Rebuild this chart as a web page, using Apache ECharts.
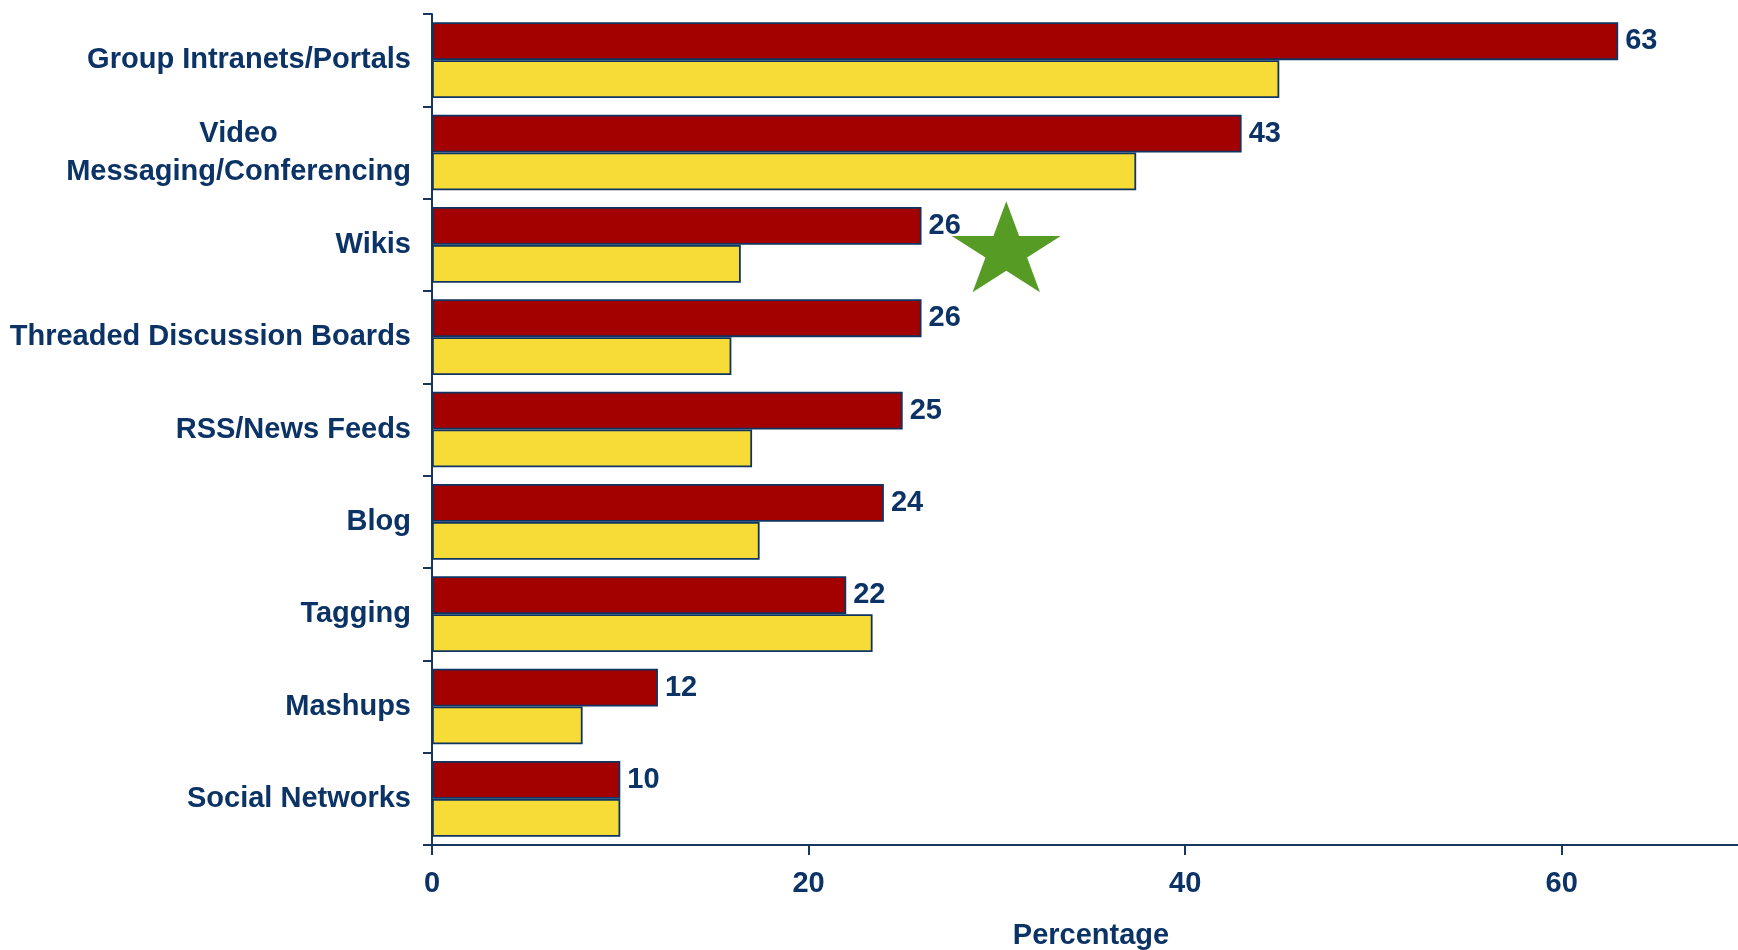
<!DOCTYPE html>
<html>
<head>
<meta charset="utf-8">
<title>Collaboration technologies</title>
<script src="https://cdn.jsdelivr.net/npm/echarts@6/dist/echarts.min.js"></script>
<style>
  html, body { margin: 0; padding: 0; background: #ffffff; }
  #chart { width: 1738px; height: 950px; }
</style>
</head>
<body>
<div id="chart"></div>
<script>
// Technologies, top to bottom
const categories = [
  'Group Intranets/Portals',
  'Video\nMessaging/Conferencing',
  'Wikis',
  'Threaded Discussion Boards',
  'RSS/News Feeds',
  'Blog',
  'Tagging',
  'Mashups',
  'Social Networks'
];

// Labelled (red) series
const redValues = [63, 43, 26, 26, 25, 24, 22, 12, 10];

// Comparison (yellow) series
const yellowValues = [45, 37.4, 16.4, 15.9, 17, 17.4, 23.4, 8, 10];

// Percentage axis ticks
const xTicks = [0, 20, 40, 60];
const xMin = 0;
const xMax = 70;
const xInterval = 20;

// Highlight star placed next to the Wikis row
const starAt = [30.5, 'Wikis'];

const NAVY = '#0c3366';
const AXIS = '#17375f';
const FONT = "'Liberation Sans', Arial, Helvetica, sans-serif";
const FS = 29;

const starPath = 'path://M100 0 L122.45 69.1 L195.1 69.1 L136.3 111.8 L158.8 180.9 L100 138.2 L41.2 180.9 L63.7 111.8 L4.9 69.1 L77.55 69.1 Z';

const chart = echarts.init(document.getElementById('chart'), null, { renderer: 'canvas' });

const barStyle = (fill) => ({
  color: fill,
  borderColor: '#0f3462',
  borderWidth: 1.8
});

chart.setOption({
  animation: false,
  backgroundColor: '#ffffff',
  grid: {
    left: 432,
    right: -12,
    top: 14,
    bottom: 105,
    containLabel: false,
    outerBoundsMode: 'none'
  },
  xAxis: {
    type: 'value',
    min: xMin,
    max: xMax,
    interval: xInterval,
    name: 'Percentage',
    nameLocation: 'middle',
    nameGap: 76,
    nameTextStyle: { color: NAVY, fontSize: FS, fontWeight: 'bold', fontFamily: FONT },
    axisLine: { show: true, lineStyle: { color: AXIS, width: 2 } },
    axisTick: { show: true, length: 10, lineStyle: { color: AXIS, width: 2 } },
    splitLine: { show: false },
    axisLabel: {
      color: NAVY,
      fontSize: FS,
      fontWeight: 'bold',
      fontFamily: FONT,
      margin: 24,
      formatter: (v) => (xTicks.indexOf(v) >= 0 ? String(v) : '')
    }
  },
  yAxis: {
    type: 'category',
    data: categories,
    inverse: true,
    axisLine: { show: true, lineStyle: { color: AXIS, width: 2 } },
    axisTick: { show: true, length: 9, lineStyle: { color: AXIS, width: 2 } },
    splitLine: { show: false },
    axisLabel: {
      margin: 21,
      color: NAVY,
      fontSize: FS,
      fontWeight: 'bold',
      fontFamily: FONT,
      lineHeight: 38,
      formatter: (v) => v.split('\n').map((s) => '{c|' + s + '}').join('\n'),
      rich: {
        c: {
          align: 'center',
          color: NAVY,
          fontSize: FS,
          fontWeight: 'bold',
          fontFamily: FONT,
          lineHeight: 38
        }
      }
    }
  },
  series: [
    {
      name: 'Red',
      type: 'bar',
      data: redValues,
      barGap: '0%',
      barCategoryGap: '18%',
      itemStyle: barStyle('#a30000'),
      label: {
        show: true,
        position: 'right',
        distance: 7,
        color: NAVY,
        fontSize: FS,
        fontWeight: 'bold',
        fontFamily: FONT
      },
      z: 2
    },
    {
      name: 'Yellow',
      type: 'bar',
      data: yellowValues,
      barGap: '0%',
      barCategoryGap: '18%',
      itemStyle: barStyle('#f7dc37'),
      label: { show: false },
      markPoint: {
        symbol: starPath,
        symbolSize: [109, 91],
        // mark points on a bar series sit on this bar's own centre; shift back to the row centre
        symbolOffset: [0, -17],
        itemStyle: { color: '#569b24', borderWidth: 0 },
        label: { show: false },
        data: [{ coord: starAt }],
        z: 5
      },
      z: 2
    }
  ]
});
</script>
</body>
</html>
